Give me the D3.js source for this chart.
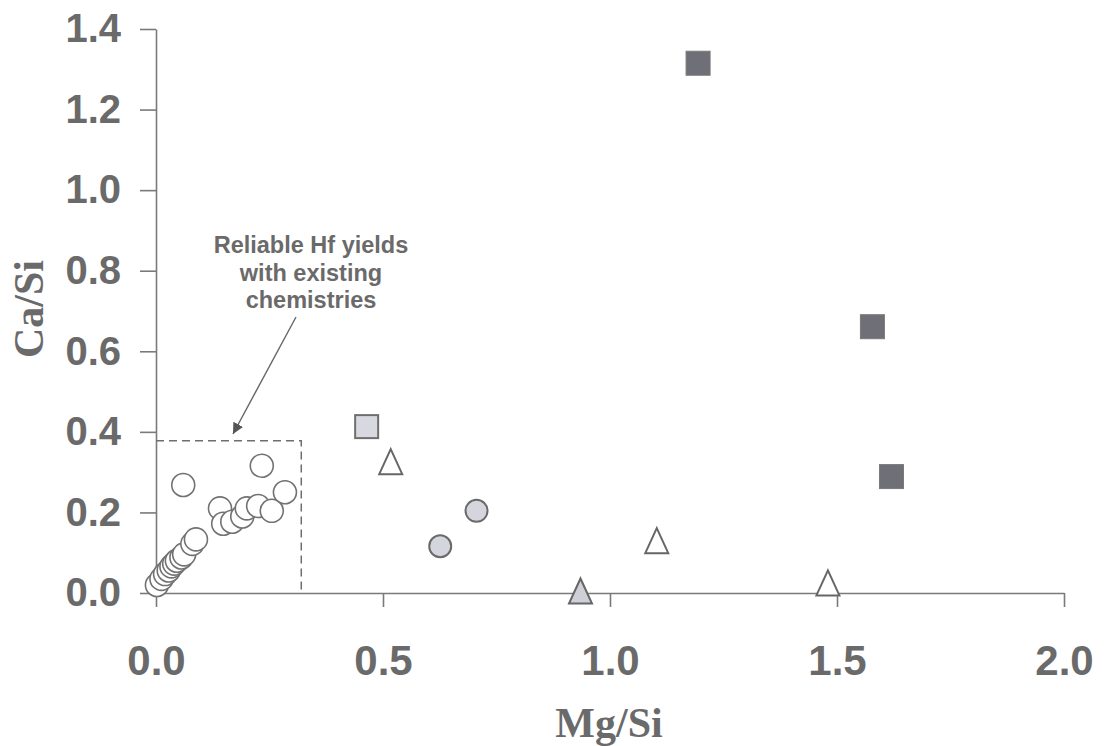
<!DOCTYPE html>
<html>
<head>
<meta charset="utf-8">
<script src="https://cdn.jsdelivr.net/npm/d3@7"></script>
<style>
  html, body { margin: 0; padding: 0; background: #ffffff; }
  svg { display: block; }
</style>
</head>
<body>
<svg id="chart" width="1105" height="746"></svg>
<script>
// Ca/Si versus Mg/Si for the sample groups
const openCircles = [
  [0.002, 0.020], [0.012, 0.035], [0.020, 0.047], [0.028, 0.056], [0.034, 0.066],
  [0.040, 0.073], [0.046, 0.080], [0.056, 0.088], [0.062, 0.096], [0.080, 0.122],
  [0.088, 0.133], [0.060, 0.268], [0.141, 0.210], [0.148, 0.172], [0.168, 0.177],
  [0.190, 0.190], [0.200, 0.210], [0.225, 0.216], [0.255, 0.204], [0.233, 0.316],
  [0.284, 0.250]
];
const greyCircles = [[0.626, 0.116], [0.706, 0.204]];
const lightSquares = [[0.464, 0.413]];
const darkSquares = [[1.194, 1.315], [1.578, 0.661], [1.620, 0.289]];
const openTriangles = [[0.517, 0.326], [1.103, 0.130], [1.480, 0.025]];
const greyTriangles = [[0.935, 0.005]];

const xTicks = [0, 0.5, 1.0, 1.5, 2.0];
const yTicks = [0, 0.2, 0.4, 0.6, 0.8, 1.0, 1.2, 1.4];
const reliableBox = { x: 0.32, y: 0.378 };
const noteLines = ["Reliable Hf yields", "with existing", "chemistries"];

const svg = d3.select("#chart");
const axisColor = "#7a7a7a";
const labelColor = "#6a6a6a";

const x = d3.scaleLinear().domain([0, 2]).range([156, 1064]);
const y = d3.scaleLinear().domain([0, 1.4]).range([593, 29]);

// axes
const gx = svg.append("g").attr("transform", `translate(0,${y(0)})`)
  .call(d3.axisBottom(x).tickValues(xTicks).tickSize(14).tickSizeOuter(0)
    .tickPadding(38).tickFormat(d3.format(".1f")));
const gy = svg.append("g").attr("transform", `translate(${x(0)},0)`)
  .call(d3.axisLeft(y).tickValues(yTicks).tickSize(16).tickSizeOuter(0)
    .tickPadding(19).tickFormat(d3.format(".1f")));

[gx, gy].forEach(g => {
  g.select(".domain").attr("stroke", axisColor).attr("stroke-width", 1.6);
  g.selectAll(".tick line").attr("stroke", axisColor).attr("stroke-width", 1.6);
  g.selectAll(".tick text")
    .attr("fill", labelColor)
    .style("font-family", "'Liberation Sans', Arial, sans-serif")
    .style("font-weight", "bold");
});
gx.selectAll(".tick text").style("font-size", "42px");
gy.selectAll(".tick text").style("font-size", "40px");

// axis titles
svg.append("text")
  .attr("x", 609).attr("y", 737)
  .attr("text-anchor", "middle")
  .attr("fill", labelColor)
  .style("font-family", "'Liberation Serif', 'Times New Roman', serif")
  .style("font-weight", "bold").style("font-size", "42px")
  .text("Mg/Si");
svg.append("text")
  .attr("transform", "translate(43,309) rotate(-90)")
  .attr("text-anchor", "middle")
  .attr("fill", labelColor)
  .style("font-family", "'Liberation Serif', 'Times New Roman', serif")
  .style("font-weight", "bold").style("font-size", "42px")
  .text("Ca/Si");

// dashed field of reliable yields
svg.append("path")
  .attr("d", `M${x(0)},${y(reliableBox.y)}H${x(reliableBox.x)}V${y(0)}`)
  .attr("fill", "none")
  .attr("stroke", "#6e6e6e")
  .attr("stroke-width", 1.5)
  .attr("stroke-dasharray", "8,5");

// annotation
const note = svg.append("text")
  .attr("text-anchor", "middle")
  .attr("fill", labelColor)
  .style("font-family", "'Liberation Sans', Arial, sans-serif")
  .style("font-weight", "bold").style("font-size", "23.5px");
noteLines.forEach((t, i) => {
  note.append("tspan").attr("x", 311).attr("y", 253 + i * 27.5).text(t);
});

svg.append("defs").append("marker")
  .attr("id", "arrowHead")
  .attr("viewBox", "0 0 10 10")
  .attr("refX", 10).attr("refY", 5)
  .attr("markerWidth", 11).attr("markerHeight", 11)
  .attr("markerUnits", "userSpaceOnUse")
  .attr("orient", "auto")
  .append("path").attr("d", "M0,0L10,5L0,10Z").attr("fill", "#555");
svg.append("line")
  .attr("x1", 296).attr("y1", 317).attr("x2", 233).attr("y2", 434)
  .attr("stroke", "#666").attr("stroke-width", 1.4)
  .attr("marker-end", "url(#arrowHead)");

// markers
const triPath = (w, h) => `M0,${-h / 2}L${w / 2},${h / 2}L${-w / 2},${h / 2}Z`;

svg.append("g").selectAll("circle").data(openCircles).join("circle")
  .attr("cx", d => x(d[0])).attr("cy", d => y(d[1])).attr("r", 11.5)
  .attr("fill", "#ffffff").attr("stroke", "#727272").attr("stroke-width", 1.6);

svg.append("g").selectAll("circle").data(greyCircles).join("circle")
  .attr("cx", d => x(d[0])).attr("cy", d => y(d[1])).attr("r", 11)
  .attr("fill", "#d5d5dd").attr("stroke", "#6a6a6a").attr("stroke-width", 2);

svg.append("g").selectAll("rect").data(lightSquares).join("rect")
  .attr("x", d => x(d[0]) - 11.5).attr("y", d => y(d[1]) - 11.5)
  .attr("width", 23).attr("height", 23)
  .attr("fill", "#d8d8e0").attr("stroke", "#6e6e6e").attr("stroke-width", 2);

svg.append("g").selectAll("rect").data(darkSquares).join("rect")
  .attr("x", d => x(d[0]) - 12).attr("y", d => y(d[1]) - 12)
  .attr("width", 24).attr("height", 24)
  .attr("fill", "#6f6f77").attr("stroke", "#7a7a7a").attr("stroke-width", 1);

svg.append("g").selectAll("path").data(openTriangles).join("path")
  .attr("transform", d => `translate(${x(d[0])},${y(d[1])})`)
  .attr("d", triPath(23, 25))
  .attr("fill", "#ffffff").attr("stroke", "#666").attr("stroke-width", 2);

svg.append("g").selectAll("path").data(greyTriangles).join("path")
  .attr("transform", d => `translate(${x(d[0])},${y(d[1])})`)
  .attr("d", triPath(23, 25))
  .attr("fill", "#cfcfd7").attr("stroke", "#666").attr("stroke-width", 2);
</script>
</body>
</html>
